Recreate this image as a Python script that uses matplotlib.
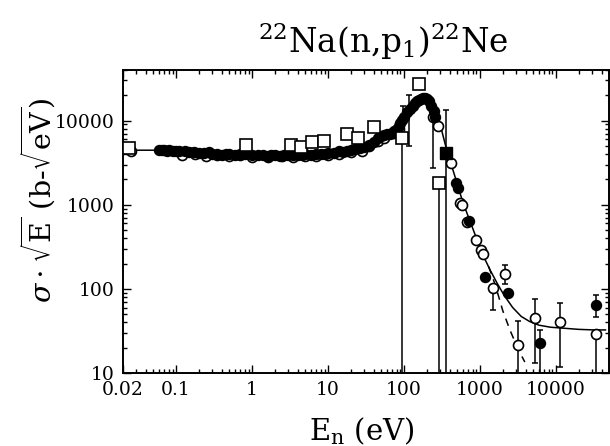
import matplotlib
matplotlib.use("Agg")
import matplotlib.pyplot as plt
from matplotlib.ticker import FixedLocator, FixedFormatter, LogLocator, NullFormatter

# --- tipografia tipo articulo ---
plt.rcParams.update({
    "font.family": "serif",
    "font.serif": ["DejaVu Serif"],
    "mathtext.fontset": "dejavuserif",
    "font.size": 12,
})

# --- datos: E (eV), sigma*sqrt(E) (b-sqrt(eV)) ---
# circulos llenos
full_E = [0.06, 0.065, 0.07, 0.075, 0.08, 0.09, 0.1, 0.11, 0.13, 0.15, 0.17, 0.2,
          0.23, 0.27, 0.3, 0.35, 0.4, 0.45, 0.5, 0.6, 0.7, 0.8, 1.0, 1.2, 1.4, 1.6,
          1.8, 2.0, 2.3, 2.6, 3.0, 3.5, 4, 4.5, 5, 6, 7, 8, 9, 10, 12, 14, 16, 18,
          20, 23, 26, 30, 35, 40, 45, 50, 55, 60, 65, 70, 75, 80, 85, 90, 95, 100,
          110, 120, 130, 140, 150, 160, 170, 180, 190, 200, 215, 230, 245, 260,
          490, 521, 726, 1178, 2360, 6200, 33700]
full_V = [4500, 4450, 4500, 4400, 4450, 4350, 4400, 4300, 4350, 4200, 4250, 4150,
          4100, 4200, 4000, 4050, 3950, 4050, 4000, 3900, 4000, 4050, 3950, 3850, 3900, 3800,
          3900, 3850, 3800, 3900, 3850, 3900, 3950, 3850, 4000, 3950, 4050, 4000, 4050, 4100, 4150, 4300, 4250, 4400,
          4500, 4600, 4700, 4900, 5200, 5600, 6300, 6600, 6700, 6900, 7000, 7200, 7500, 8000, 8600, 9300, 10200, 11000,
          12500, 13800, 15000, 16200, 17000, 17800, 18300, 18600, 18500, 18200, 17000, 15000, 13000, 11000,
          1800, 1570, 635, 138, 89, 23, 64]

# circulos abiertos
open_E = [0.0253, 0.12, 0.18, 0.25, 0.35, 0.5, 0.7, 1.0, 1.6, 2.5, 3.5, 5, 7, 10,
          14, 20, 28, 35, 45, 55, 73, 85, 240, 285, 422, 553, 588, 684, 897, 1043,
          1110, 1500, 2150, 3190, 5330, 11350, 33700]
open_V = [4400, 3950, 4050, 3800, 3850, 3750, 3900, 3700, 3650, 3750, 3700, 3800, 3750, 3900,
          4000, 4200, 4400, 5000, 5800, 6200, 7200, 8000, 11000, 8700, 3100, 1040, 985, 617, 378, 288,
          258, 102, 149, 21.5, 45, 40, 29]

# cuadrados abiertos
sq_E = [0.0243, 0.83, 3.25, 4.4, 6.1, 8.8, 17.6, 25, 40, 93, 160, 293]
sq_V = [4700, 5070, 5070, 4800, 5500, 5800, 7000, 6300, 8300, 6300, 27500, 1800]

# cuadrado lleno
fsq_E = [362]
fsq_V = [4080]

# barras de error: centro, limite inferior, limite superior
eb_E = [96, 118, 240, 93, 293, 362, 1500, 2150, 3190, 5330, 6200, 11350, 33700, 33700]
eb_V = [9250, 10500, 11000, 6300, 1800, 4080, 102, 149, 21.5, 45, 23, 40, 29, 64]
eb_lo = [5500, 5000, 2700, 1, 1, 1, 56, 115, 1, 13, 1, 11.8, 1, 46]
eb_hi = [15000, 19900, 13200, 6300, 1800, 13200, 102, 190, 42, 75, 32, 68, 29, 84]

# curva de ajuste (continua) y variante (discontinua)
fit_E = [0.02, 0.06, 0.1, 0.3, 1, 3, 6, 10, 20, 30, 45, 60, 80, 100, 130, 160, 190,
         220, 260, 300, 350, 420, 500, 600, 750, 900, 1100, 1370, 1700, 2100, 2700,
         3500, 4500, 6000, 8500, 13000, 20000, 32000, 45000]
fit_V = [4450, 4450, 4350, 4150, 3950, 3900, 4000, 4150, 4500, 5100, 6200, 7000, 8300,
         10500, 14500, 17800, 18800, 17500, 13500, 9000, 5200, 3000, 1800, 1050, 620, 400,
         250, 166, 115, 83, 60, 47, 41, 37, 35, 34, 33, 32.5, 32.5]
dash_E = [1300, 1600, 2000, 2500, 3200, 3900]
dash_V = [185, 110, 55, 32, 19, 13.5]

x_ticks = [0.02, 0.1, 1, 10, 100, 1000, 10000]
x_labels = ["0.02", "0.1", "1", "10", "100", "1000", "10000"]
y_ticks = [10, 100, 1000, 10000]
y_labels = ["10", "100", "1000", "10000"]

fig = plt.figure(figsize=(6.10, 4.46), dpi=100, facecolor="white")
ax = fig.add_axes([0.2016, 0.1637, 0.7967, 0.6794])

# barras de error
yerr = [[v - lo for v, lo in zip(eb_V, eb_lo)], [hi - v for v, hi in zip(eb_V, eb_hi)]]
ax.errorbar(eb_E, eb_V, yerr=yerr, fmt="none", ecolor="black", elinewidth=1.1,
            capsize=2.2, capthick=1.1, zorder=2)

# curvas
ax.plot(fit_E, fit_V, color="black", lw=1.1, zorder=2)
ax.plot(dash_E, dash_V, color="black", lw=1.1, dashes=(5, 4), zorder=2)

# puntos
ax.plot(open_E, open_V, "o", ms=7.2, mfc="white", mec="black", mew=1.2, zorder=3)
ax.plot(full_E, full_V, "o", ms=7.2, mfc="black", mec="black", mew=1.0, zorder=4)
ax.plot(sq_E, sq_V, "s", ms=8.0, mfc="white", mec="black", mew=1.2, zorder=5)
ax.plot(fsq_E, fsq_V, "s", ms=8.0, mfc="black", mec="black", mew=1.0, zorder=5)

ax.set_xscale("log")
ax.set_yscale("log")
ax.set_xlim(0.02, 5e4)
ax.set_ylim(10, 4e4)

ax.xaxis.set_major_locator(FixedLocator(x_ticks))
ax.xaxis.set_major_formatter(FixedFormatter(x_labels))
ax.yaxis.set_major_locator(FixedLocator(y_ticks))
ax.yaxis.set_major_formatter(FixedFormatter(y_labels))
ax.xaxis.set_minor_locator(LogLocator(base=10, subs=range(2, 10), numticks=20))
ax.yaxis.set_minor_locator(LogLocator(base=10, subs=range(2, 10), numticks=20))
ax.xaxis.set_minor_formatter(NullFormatter())
ax.yaxis.set_minor_formatter(NullFormatter())

ax.tick_params(which="both", direction="in", top=True, right=True, width=1.0)
ax.tick_params(which="major", length=6, labelsize=13.5, pad=6)
ax.tick_params(which="minor", length=3)
for s in ax.spines.values():
    s.set_linewidth(1.4)

fig.text(383 / 610, 1 - 53 / 446, r"$^{22}$Na(n,p$_1$)$^{22}$Ne", fontsize=23.5,
         ha="center", va="baseline")
fig.text(362 / 610, 1 - 440 / 446, r"E$_\mathrm{n}$ (eV)", fontsize=21,
         ha="center", va="baseline")
fig.text(38 / 610, 1 - 200 / 446, r"$\sigma\cdot\sqrt{\mathrm{E}}$ (b-$\sqrt{\mathrm{eV}}$)",
         fontsize=20.5, rotation=90, ha="center", va="center")

plt.savefig("out.png", dpi=100, facecolor=fig.get_facecolor())
